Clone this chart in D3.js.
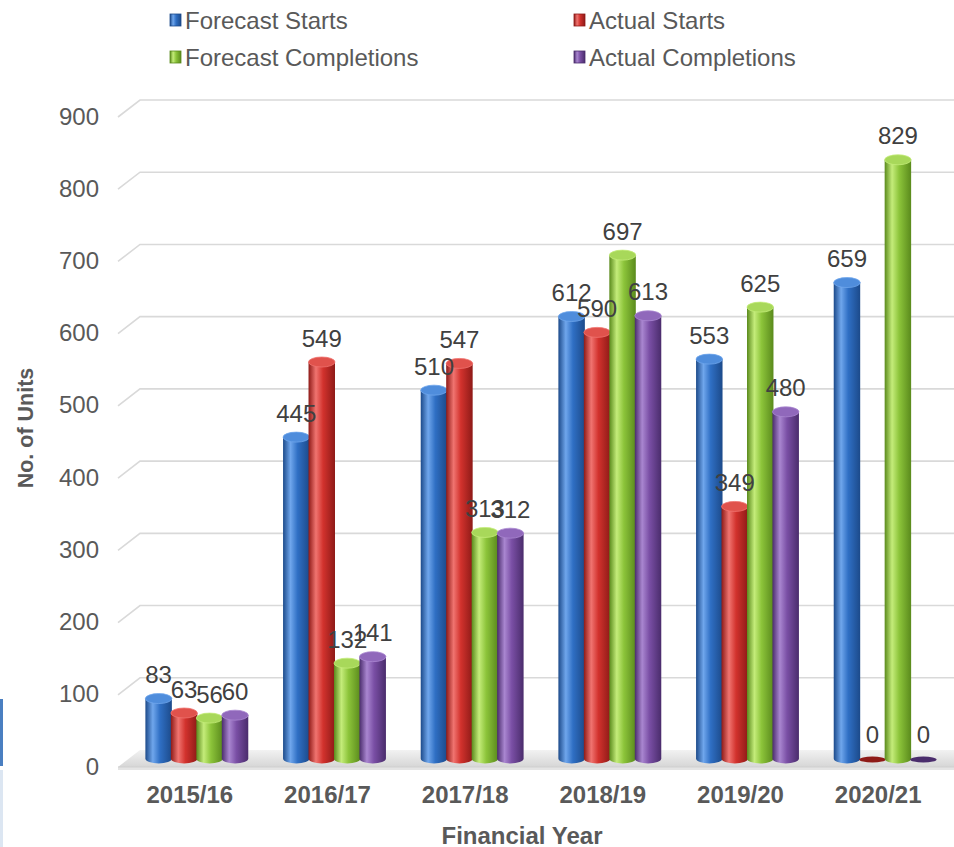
<!DOCTYPE html>
<html>
<head>
<meta charset="utf-8">
<script src="https://cdn.jsdelivr.net/npm/d3@7"></script>
<style>
  body { margin: 0; background: #fff; }
  svg { display: block; font-family: "Liberation Sans", Arial, sans-serif; }
</style>
</head>
<body>
<div id="chart"></div>
<script>
const years = ["2015/16", "2016/17", "2017/18", "2018/19", "2019/20", "2020/21"];
const seriesNames = ["Forecast Starts", "Actual Starts", "Forecast Completions", "Actual Completions"];
const forecastStarts = [83, 445, 510, 612, 553, 659];
const actualStarts = [63, 549, 547, 590, 349, 0];
const forecastCompletions = [56, 132, 313, 697, 625, 829];
const actualCompletions = [60, 141, 312, 613, 480, 0];
const yTicks = [0, 100, 200, 300, 400, 500, 600, 700, 800, 900];

const series = [forecastStarts, actualStarts, forecastCompletions, actualCompletions];
// base, light, dark for each series
const colors = [
  {base: "#2f6fc4", light: "#6fa6ec", dark: "#1c4a8a", cap: "#4f8ddc"},
  {base: "#d2322d", light: "#f07470", dark: "#8e1a17", cap: "#e0524c"},
  {base: "#8cc43a", light: "#c4ec7a", dark: "#5a8a1c", cap: "#a8d85a"},
  {base: "#7a4fa5", light: "#a986d0", dark: "#4a2c6c", cap: "#9068bb"}
];

const W = 954, H = 847;
const depthX = 22, depthY = 17;
const floorFront = 767;

const svg = d3.select("#chart").append("svg").attr("width", W).attr("height", H);
const defs = svg.append("defs");

colors.forEach((c, i) => {
  const g = defs.append("linearGradient").attr("id", "cyl" + i).attr("x1", 0).attr("x2", 1).attr("y1", 0).attr("y2", 0);
  g.append("stop").attr("offset", "0%").attr("stop-color", c.dark);
  g.append("stop").attr("offset", "28%").attr("stop-color", c.light);
  g.append("stop").attr("offset", "55%").attr("stop-color", c.base);
  g.append("stop").attr("offset", "100%").attr("stop-color", c.dark);
});
const fg = defs.append("linearGradient").attr("id", "floorGrad").attr("x1", 0).attr("x2", 0).attr("y1", 0).attr("y2", 1);
fg.append("stop").attr("offset", "0%").attr("stop-color", "#f2f2f2");
fg.append("stop").attr("offset", "100%").attr("stop-color", "#d6d6d6");

// front-plane scale; wall = front shifted by depth
const y = d3.scaleLinear().domain([0, 900]).range([floorFront, floorFront - 650]);

const x0 = d3.scaleBand().domain(years).range([128, 954]).paddingInner(0.26).paddingOuter(0.13);
const x1 = d3.scaleBand().domain(d3.range(series.length)).range([0, x0.bandwidth()]);

// left edge artifact
svg.append("rect").attr("x", 0).attr("y", 699).attr("width", 3).attr("height", 67).attr("fill", "#4a7fc1");
svg.append("rect").attr("x", 0).attr("y", 770).attr("width", 3).attr("height", 77).attr("fill", "#dce6f2");

// gridlines
const grid = svg.append("g").attr("stroke", "#d9d9d9").attr("stroke-width", 1.6).attr("fill", "none");
yTicks.filter(t => t > 0).forEach(t => {
  grid.append("path").attr("d", `M118,${y(t)}L${118 + depthX},${y(t) - depthY}L${W},${y(t) - depthY}`);
});

// floor
const fl = svg.append("g");
fl.append("path")
  .attr("d", `M118,${floorFront}L${118 + depthX},${floorFront - depthY}L${W},${floorFront - depthY}L${W},${floorFront}Z`)
  .attr("fill", "url(#floorGrad)");
fl.append("rect").attr("x", 118).attr("y", floorFront).attr("width", W - 118).attr("height", 3).attr("fill", "#e4e4e4");
fl.append("path").attr("d", `M118,${floorFront}L${W},${floorFront}`).attr("stroke", "#cfcfcf").attr("stroke-width", 1);

// y tick labels
svg.append("g").selectAll("text").data(yTicks).join("text")
  .attr("x", 99).attr("y", d => y(d) - 1)
  .attr("text-anchor", "end").attr("dominant-baseline", "central")
  .attr("font-size", 24).attr("fill", "#595959")
  .text(d => d);

// bars
const barBase = floorFront - depthY / 2;
const ry = 5;
const bars = svg.append("g");
years.forEach((yr, gi) => {
  series.forEach((s, si) => {
    const v = s[gi];
    const bw = x1.bandwidth() + 1;
    const cx = x0(yr) + x1(si) + x1.bandwidth() / 2;
    const bx = cx - bw / 2;
    const top = barBase - (y(0) - y(v));
    const g = bars.append("g");
    if (v > 0) {
      g.append("path")
        .attr("d", `M${bx},${top}L${bx},${barBase}A${bw / 2},${ry} 0 0 0 ${bx + bw},${barBase}L${bx + bw},${top}Z`)
        .attr("fill", `url(#cyl${si})`);
      g.append("ellipse").attr("cx", cx).attr("cy", top).attr("rx", bw / 2).attr("ry", ry)
        .attr("fill", colors[si].cap).attr("stroke", colors[si].light).attr("stroke-width", 0.8);
    } else {
      g.append("ellipse").attr("cx", cx).attr("cy", barBase + 1).attr("rx", bw / 2).attr("ry", 3)
        .attr("fill", colors[si].dark);
    }
  });
});

// value labels
const labels = svg.append("g").attr("font-size", 24).attr("fill", "#404040").attr("text-anchor", "middle");
years.forEach((yr, gi) => {
  series.forEach((s, si) => {
    const v = s[gi];
    const cx = x0(yr) + x1(si) + x1.bandwidth() / 2;
    const top = barBase - (y(0) - y(v));
    labels.append("text")
      .attr("x", cx).attr("y", top - 24)
      .attr("dominant-baseline", "central")
      .text(v);
  });
});

// x labels (sit on the front edge, a bit left of the bar groups)
svg.append("g").selectAll("text").data(years).join("text")
  .attr("x", d => x0(d) + x0.bandwidth() / 2 - 7).attr("y", 794)
  .attr("text-anchor", "middle").attr("dominant-baseline", "central")
  .attr("font-size", 24).attr("font-weight", "bold").attr("fill", "#595959")
  .text(d => d);

svg.append("text").attr("x", 522).attr("y", 835)
  .attr("text-anchor", "middle").attr("dominant-baseline", "central")
  .attr("font-size", 24).attr("font-weight", "bold").attr("fill", "#595959")
  .text("Financial Year");

svg.append("text").attr("transform", "translate(26,428) rotate(-90)")
  .attr("text-anchor", "middle").attr("dominant-baseline", "central")
  .attr("font-size", 21.5).attr("font-weight", "bold").attr("fill", "#595959")
  .text("No. of Units");

// legend
const legPos = [[170, 20], [574, 20], [170, 57], [574, 57]];
const leg = svg.append("g");
seriesNames.forEach((n, i) => {
  const [lx, ly] = legPos[i];
  leg.append("rect").attr("x", lx).attr("y", ly - 6).attr("width", 11).attr("height", 12)
    .attr("fill", `url(#cyl${i})`).attr("stroke", colors[i].dark).attr("stroke-width", 0.8);
  leg.append("text").attr("x", lx + 15).attr("y", ly)
    .attr("dominant-baseline", "central").attr("font-size", 24).attr("fill", "#595959")
    .text(n);
});
</script>
</body>
</html>
